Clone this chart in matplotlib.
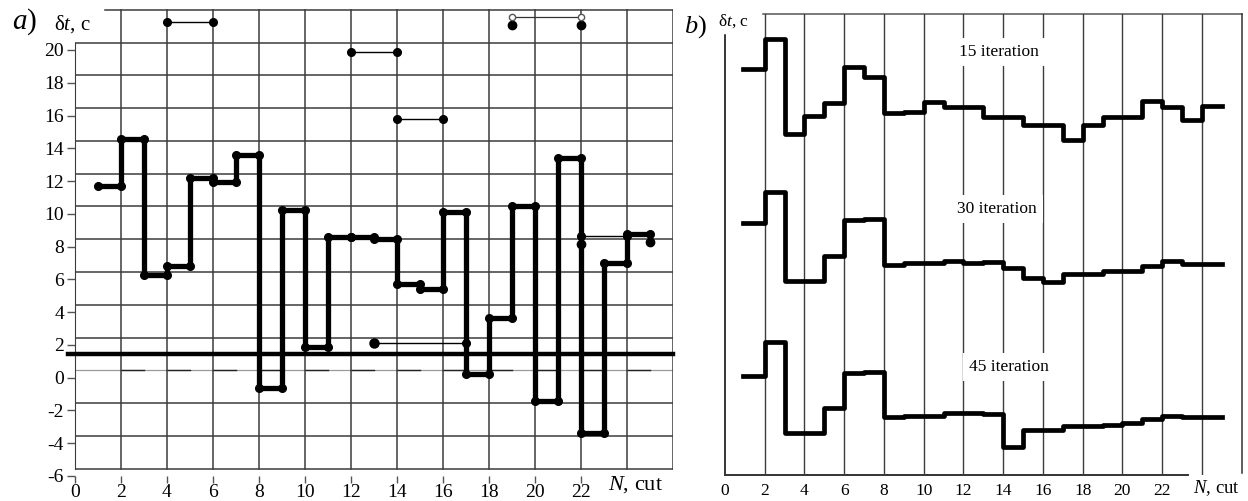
import numpy as np
import matplotlib
matplotlib.use('Agg')
import matplotlib.pyplot as plt

plt.rcParams['font.family'] = ['Liberation Serif', 'DejaVu Serif']
plt.rcParams['mathtext.fontset'] = 'custom'
plt.rcParams['mathtext.rm'] = 'Liberation Serif'
plt.rcParams['mathtext.it'] = 'Liberation Serif:italic'
plt.rcParams['axes.unicode_minus'] = False

# ---- panel a) : delta t per cut
n_a = list(range(1, 25))
dt_a = [11.67, 14.57, 6.27, 6.82, 12.16, 11.92, 13.6, -0.6, 10.24, 1.9, 8.6, 8.56,
        8.47, 5.73, 5.4, 10.1, 0.24, 3.64, 10.5, -1.4, 13.4, -3.4, 7.0, 8.75]
last_dot = (25, 8.3)
level_a = 1.45

# thin segments with dots (x0, x1, y)
thin_a = [(4, 6, 21.7), (12, 14, 19.9), (14, 16, 15.76), (13, 17, 2.1), (22, 24, 8.67)]
extra_dots = [(19, 21.5), (22, 21.5), (22, 8.16)]
open_seg = (19, 22, 22.0)

a_xticks = list(range(0, 23, 2))
a_yticks = list(range(-6, 21, 2))

# ---- panel b) : iterations (relative height, no scale)
n_b = list(range(1, 25))
it15 = [405.7, 436, 340.7, 359.3, 372.3, 407.7, 398.3, 361.7, 363.3, 372.7, 368.3, 368.3,
        358.3, 358.3, 350, 350, 335, 350, 358.3, 358.3, 374.3, 368.3, 355, 369]
it30 = [252.3, 283.3, 194, 194, 219.3, 255, 255.7, 210, 211.7, 211.7, 214, 212.3,
        212.7, 206.7, 196.7, 192.7, 200.7, 200.7, 204.3, 204.3, 209.3, 214, 211, 211]
it45 = [99, 133.3, 41.7, 41.7, 67.3, 101.7, 103.3, 57.7, 59.3, 59.3, 61.7, 61.7,
        61, 28.3, 45, 45, 49, 49, 50, 52.3, 55.7, 59, 57.7, 57.7]
labels_b = ['15 iteration', '30 iteration', '45 iteration']
label_pos = [(13.8, 423), (13.7, 266), (14.3, 108)]
b_xticks = list(range(0, 23, 2))

W, H = 1248, 501
fig = plt.figure(figsize=(W / 100, H / 100), dpi=100)
grid_c = '#3c3c3c'


def px(x, y):
    return x / W, 1 - y / H


# ---------- a)
ax = fig.add_axes([75 / W, (H - 476) / H, 598 / W, 467 / H])
ax.set_xlim(0, 26)
ax.set_ylim(-6, 22.5)
for s in ['top', 'right', 'bottom']:
    ax.spines[s].set_visible(False)
ax.spines['left'].set_bounds(-5.55, 20.45)
ax.spines['left'].set_color(grid_c)

gy = np.arange(-5.55, 22.5, 2)
for y in gy:
    if abs(y - 22.45) < 0.01:
        ax.plot([1.3, 26], [y, y], color=grid_c, lw=1.1, zorder=1)
    elif abs(y - 0.45) < 0.01:
        ax.plot([0, 26], [y, y], color='#9a9a9a', lw=0.9, zorder=1)
        for x0 in range(2, 26, 2):
            ax.plot([x0, x0 + 1], [y, y], color='#222222', lw=1.0, zorder=1)
    else:
        ax.plot([0, 26], [y, y], color=grid_c, lw=1.1 if y > -5.6 else 1.4, zorder=1)
for x in range(2, 27, 2):
    ax.plot([x, x], [-5.55, 22.45], color=grid_c, lw=1.1, zorder=1)

ax.set_xticks(a_xticks)
ax.set_yticks(a_yticks)
ax.tick_params(axis='x', direction='out', length=5, width=1, pad=1, labelsize=14, color='#555555')
ax.tick_params(axis='y', direction='out', length=6, width=1, pad=2, labelsize=14, color='#555555')

xs = n_a + [n_a[-1] + 1]
ys = dt_a + [dt_a[-1]]
ax.step(xs, ys, where='post', color='black', lw=3.8, zorder=4, solid_capstyle='round')
for x, v in zip(n_a, dt_a):
    ax.plot([x, x + 1], [v, v], 'o', color='black', ms=5.5, zorder=5)
ax.plot(*last_dot, 'o', color='black', ms=6, zorder=5)

for x0, x1, y in thin_a:
    ax.plot([x0, x1], [y, y], color='black', lw=1, zorder=3)
    ax.plot([x0, x1], [y, y], 'o', color='black', ms=5.5, zorder=5)
ax.plot([13], [2.1], 'o', color='black', ms=6.5, zorder=5)
for x, y in extra_dots:
    ax.plot(x, y, 'o', color='black', ms=6, zorder=5)
ax.plot([open_seg[0], open_seg[1]], [open_seg[2], open_seg[2]], color='#333333', lw=0.9, zorder=3)
ax.plot([open_seg[0], open_seg[1]], [open_seg[2], open_seg[2]], 'o', mfc='white', mec='#555555',
        ms=4.5, mew=1, zorder=5)

ax.plot([-0.3, 26], [level_a, level_a], color='black', lw=3.2, zorder=4, clip_on=False)
ax.text(24.35, -6.5, '$N$, cut', fontsize=16, ha='center', va='center')

fig.text(*px(25, 22), '$a$)', fontsize=21, ha='center', va='center')
fig.text(*px(72, 24), 'δ$t$, c', fontsize=15, ha='center', va='center')

# ---------- b)
bx = fig.add_axes([725 / W, (H - 475) / H, 516.6 / W, 461 / H])
bx.set_xlim(0, 26)
bx.set_ylim(0, 461)
for s in ['top', 'right', 'bottom', 'left']:
    bx.spines[s].set_visible(False)
bx.plot([0, 0], [0, 440], color='black', lw=1.1, zorder=1, clip_on=False)
bx.plot([0, 23.3], [0, 0], color='#333333', lw=1.4, zorder=1, clip_on=False)
bx.plot([1.9, 26], [461, 461], color='#555555', lw=1.1, zorder=1, clip_on=False)
bx.plot([26, 26], [2, 461], color='#333333', lw=1.1, zorder=1, clip_on=False)
for x in range(2, 25, 2):
    bx.plot([x, x], [0, 461], color=grid_c, lw=1.0, zorder=1)

bx.set_xticks(b_xticks)
bx.set_yticks([])
bx.tick_params(axis='x', length=0, pad=6, labelsize=12.5)

xb = n_b + [n_b[-1] + 1]
for series in (it15, it30, it45):
    bx.step([0.92] + xb, [series[0]] + series + [series[-1]], where='post',
            color='black', lw=3.4, zorder=4)

for txt, (x, y) in zip(labels_b, label_pos):
    bx.text(x, y, txt, fontsize=12.5, ha='center', va='center', zorder=3,
            bbox=dict(boxstyle='square,pad=0.35', fc='white', ec='none'))
bx.text(24.75, -13, '$N$, cut', fontsize=13.5, ha='center', va='center')

fig.text(*px(695, 27), '$b$)', fontsize=19, ha='center', va='center')
fig.text(*px(733, 21), 'δ$t$, c', fontsize=12.5, ha='center', va='center')

fig.savefig('out.png', dpi=100, facecolor='white')
